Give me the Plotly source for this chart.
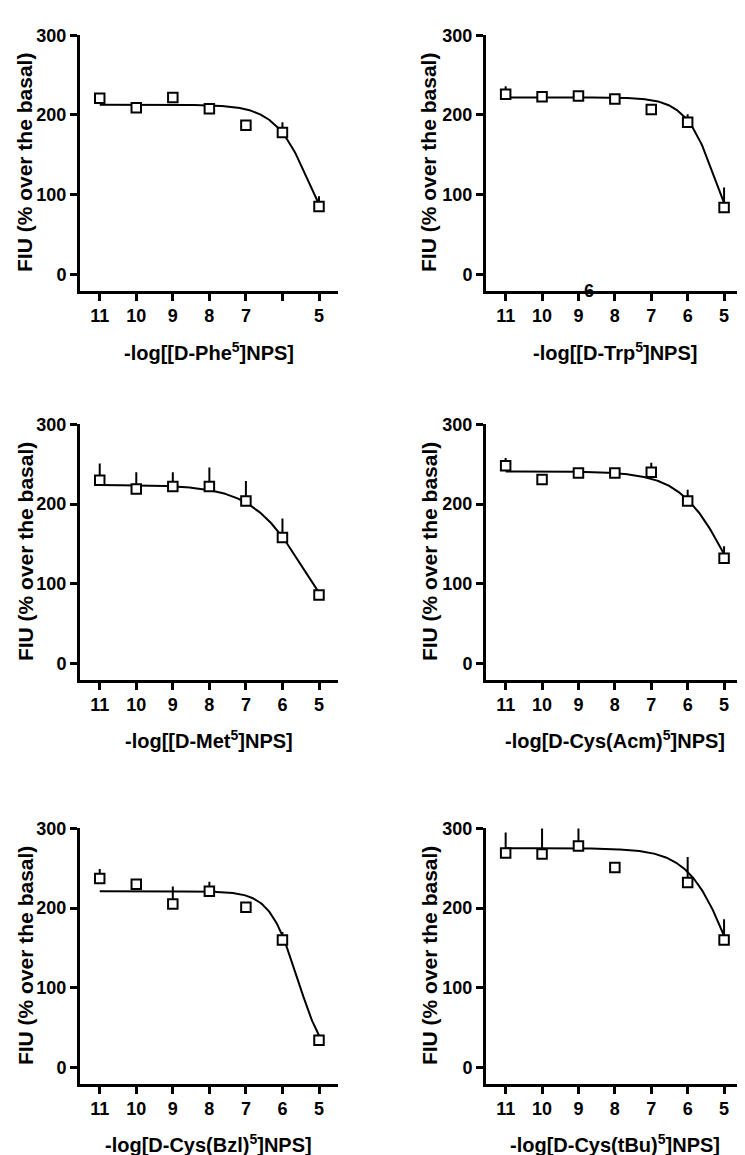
import numpy as np
import plotly.graph_objects as go

W, H = 745, 1155

# ---------------- data ----------------
log_conc = [11, 10, 9, 8, 7, 6, 5]
x_ticks = [11, 10, 9, 8, 7, 6, 5]
y_ticks = [0, 100, 200, 300]

panel_labels = [
    "-log[[D-Phe<sup>5</sup>]NPS]",
    "-log[[D-Trp<sup>5</sup>]NPS]",
    "-log[[D-Met<sup>5</sup>]NPS]",
    "-log[D-Cys(Acm)<sup>5</sup>]NPS]",
    "-log[D-Cys(Bzl)<sup>5</sup>]NPS]",
    "-log[D-Cys(tBu)<sup>5</sup>]NPS]",
]
y_title = "FIU (% over the basal)"

phe_mean = [221, 209, 222, 208, 187, 178, 85]
phe_err = [4, 3, 6, 3, 2, 13, 13]
trp_mean = [226, 223, 224, 220, 207, 191, 84]
trp_err = [10, 6, 5, 3, 3, 10, 25]
met_mean = [230, 219, 222, 222, 204, 158, 86]
met_err = [21, 21, 18, 24, 25, 24, 3]
acm_mean = [248, 231, 239, 239, 240, 204, 132]
acm_err = [10, 3, 3, 3, 12, 14, 15]
bzl_mean = [237, 230, 205, 221, 201, 160, 34]
bzl_err = [12, 6, 22, 12, 3, 10, 7]
tbu_mean = [269, 268, 278, 251, None, 232, 160]
tbu_err = [26, 39, 37, 3, 0, 32, 26]

# fitted sigmoid parameters: top, bottom, pIC50, hill slope
phe_fit = [213, 0, 5.18, 0.85]
trp_fit = [222, 0, 5.17, 0.99]
met_fit = [224, 0, 5.32, 0.57]
acm_fit = [241, 0, 4.81, 0.64]
bzl_fit = [221, 0, 5.58, 1.13]
tbu_fit = [275, 0, 4.76, 0.74]

means = [phe_mean, trp_mean, met_mean, acm_mean, bzl_mean, tbu_mean]
errs = [phe_err, trp_err, met_err, acm_err, bzl_err, tbu_err]
fits = [phe_fit, trp_fit, met_fit, acm_fit, bzl_fit, tbu_fit]

# tick label oddities of the original figure
tick_texts = [
    ["11", "10", "9", "8", "7", " ", "5"],
    ["11", "10", "9", "8", "7", "6", "5"],
    ["11", "10", "9", "8", "7", "6", "5"],
    ["11", "10", "9", "8", "7", "6", "5"],
    ["11", "10", "9", "8", "7", "6", "5"],
    ["11", "10", "9", "8", "7", "6", "5"],
]

# ---------------- layout geometry (pixels) ----------------
col_px = [(72, 330), (478, 735)]
row_px = [(17.5, 275), (410, 667.5), (817.5, 1075)]
xtitle_y_px = [336, 728, 1135]
ytitle_x_px = [17, 421]
x_range = [11.54, 4.48]
y_range = [-20.5, 300]

FONT = "Liberation Sans, Arial, Helvetica, sans-serif"


def fx(px):
    return px / W


def fy(py):
    return 1 - py / H


def sigmoid(x, p):
    top, bottom, pic50, hill = p
    return bottom + (top - bottom) / (1 + 10 ** ((pic50 - x) * hill))


fig = go.Figure()
layout = dict(
    width=W, height=H,
    margin=dict(l=0, r=0, t=0, b=0),
    paper_bgcolor="white", plot_bgcolor="white",
    showlegend=False,
    annotations=[],
)

for i in range(6):
    r, c = divmod(i, 2)
    sfx = "" if i == 0 else str(i + 1)
    xa, ya = "x" + sfx, "y" + sfx

    xs = np.linspace(min(log_conc), max(log_conc), 200)
    fig.add_trace(go.Scatter(
        x=xs, y=sigmoid(xs, fits[i]), mode="lines",
        line=dict(color="black", width=2), xaxis=xa, yaxis=ya,
        hoverinfo="skip",
    ))
    fig.add_trace(go.Scatter(
        x=log_conc, y=means[i], mode="markers",
        marker=dict(symbol="square", size=9.5, color="white",
                    line=dict(color="black", width=2)),
        error_y=dict(type="data", symmetric=False, array=errs[i],
                     arrayminus=[0] * len(errs[i]), width=0,
                     thickness=2, color="black"),
        xaxis=xa, yaxis=ya,
    ))

    x0, x1 = col_px[c]
    y0, y1 = row_px[r]
    axis_common = dict(
        showline=True, linewidth=3, linecolor="black",
        ticks="outside", ticklen=7, tickwidth=3, tickcolor="black",
        showgrid=False, zeroline=False,
        tickfont=dict(family=FONT, size=18, color="black", weight="bold"),
    )
    layout["xaxis" + sfx] = dict(
        axis_common, domain=[fx(x0), fx(x1)], range=x_range,
        tickmode="array", tickvals=x_ticks, ticktext=tick_texts[i],
        anchor=ya,
    )
    layout["yaxis" + sfx] = dict(
        axis_common, domain=[fy(y1), fy(y0)], range=y_range,
        tickmode="array", tickvals=y_ticks,
        anchor=xa,
    )
    # x-axis title
    layout["annotations"].append(dict(
        text=panel_labels[i], xref="paper", yref="paper",
        x=fx((x0 + x1) / 2), y=fy(xtitle_y_px[r]),
        xanchor="center", yanchor="middle", showarrow=False,
        font=dict(family=FONT, size=20, color="black", weight="bold"),
    ))
    # y-axis title
    layout["annotations"].append(dict(
        text=y_title, xref="paper", yref="paper",
        x=fx(ytitle_x_px[c]), y=fy((y0 + y1) / 2), textangle=-90,
        xanchor="center", yanchor="middle", showarrow=False,
        font=dict(family=FONT, size=21, color="black", weight="bold"),
    ))

# stray "6" label on the second panel's axis (as in the original)
layout["annotations"].append(dict(
    text="6", xref="x2", yref="paper", x=8.71, y=fy(275),
    xanchor="center", yanchor="middle", showarrow=False,
    font=dict(family=FONT, size=18, color="black", weight="bold"),
))

fig.update_layout(**layout)
fig.write_html("out.html")
